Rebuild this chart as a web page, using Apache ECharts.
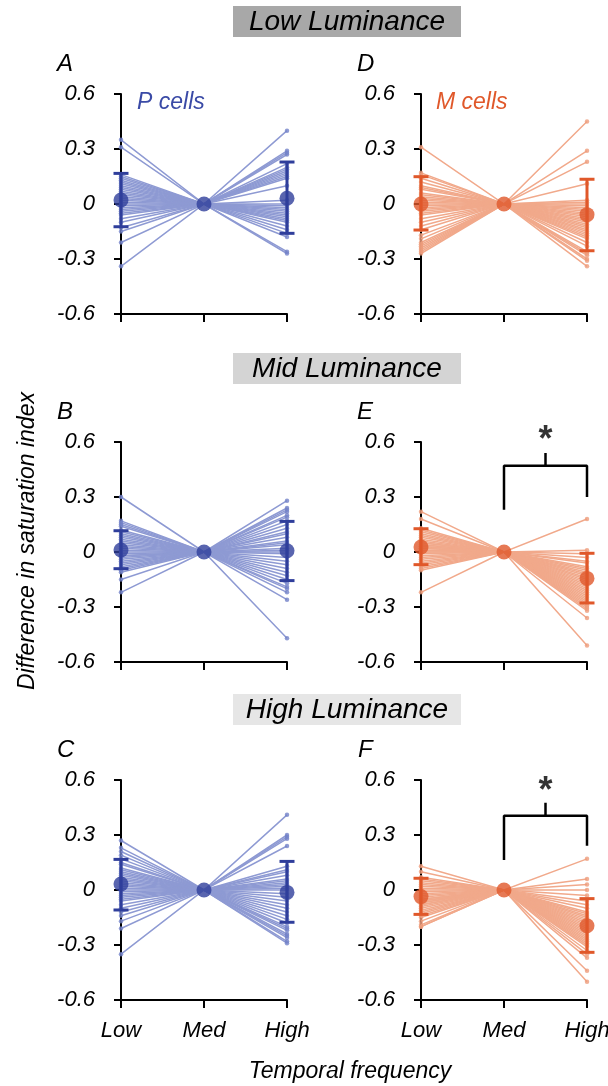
<!DOCTYPE html>
<html>
<head>
<meta charset="utf-8">
<script src="https://cdn.jsdelivr.net/npm/echarts@6/dist/echarts.min.js"></script>
<style>
html, body { margin: 0; padding: 0; background: #fff; }
#main { width: 608px; height: 1086px; }
</style>
</head>
<body>
<div id="main"></div>
<script>
var freqLabels = ['Low', 'Med', 'High'];
var yTickLabels = ['-0.6', '-0.3', '0', '0.3', '0.6'];

// each cell: value at Low and High temporal frequency (Med is the reference = 0)
// A: P cells, low luminance
var aLow = [0.35, 0.31, 0.16, 0.15, 0.14, 0.13, 0.12, 0.11, 0.10, 0.09, 0.08, 0.07, 0.06, 0.05, 0.04, 0.03, 0.02, 0.01, 0.0, -0.01, -0.02, -0.03, -0.04, -0.05, -0.06, -0.08, -0.10, -0.13, -0.15, -0.21, -0.34];
var aHigh = [0.40, 0.29, 0.28, 0.27, 0.22, 0.20, 0.19, 0.18, 0.17, 0.16, 0.15, 0.14, 0.10, 0.02, 0.0, -0.01, -0.02, -0.03, -0.04, -0.05, -0.06, -0.07, -0.08, -0.09, -0.10, -0.12, -0.14, -0.16, -0.18, -0.26, -0.27];
// D: M cells, low luminance
var dLow = [0.31, 0.17, 0.16, 0.14, 0.12, 0.10, 0.09, 0.08, 0.06, 0.05, 0.04, 0.03, 0.02, 0.01, 0.0, -0.01, -0.02, -0.03, -0.04, -0.05, -0.06, -0.08, -0.10, -0.12, -0.14, -0.17, -0.19, -0.21, -0.22, -0.23, -0.24, -0.25, -0.26, -0.27];
var dHigh = [0.45, 0.29, 0.23, 0.11, 0.02, 0.01, 0.0, -0.01, -0.02, -0.03, -0.04, -0.05, -0.06, -0.07, -0.08, -0.09, -0.10, -0.11, -0.12, -0.13, -0.14, -0.15, -0.16, -0.17, -0.18, -0.19, -0.21, -0.23, -0.26, -0.27, -0.28, -0.30, -0.31, -0.34];
// B: P cells, mid luminance
var bLow = [0.30, 0.17, 0.16, 0.15, 0.14, 0.12, 0.11, 0.10, 0.09, 0.08, 0.07, 0.06, 0.05, 0.04, 0.03, 0.02, 0.01, 0.0, -0.01, -0.02, -0.02, -0.03, -0.04, -0.05, -0.06, -0.07, -0.08, -0.09, -0.10, -0.11, -0.15, -0.22];
var bHigh = [0.28, 0.24, 0.23, 0.22, 0.20, 0.19, 0.17, 0.15, 0.13, 0.11, 0.10, 0.08, 0.06, 0.05, 0.04, 0.02, 0.01, 0.0, -0.01, -0.03, -0.05, -0.07, -0.09, -0.11, -0.13, -0.15, -0.17, -0.19, -0.20, -0.22, -0.26, -0.47];
// E: M cells, mid luminance
var eLow = [0.22, 0.18, 0.13, 0.12, 0.11, 0.10, 0.09, 0.08, 0.07, 0.06, 0.05, 0.05, 0.04, 0.04, 0.03, 0.03, 0.02, 0.02, 0.01, 0.01, 0.0, 0.0, -0.01, -0.02, -0.03, -0.04, -0.05, -0.06, -0.07, -0.08, -0.09, -0.10, -0.22];
var eHigh = [0.18, 0.01, -0.01, -0.03, -0.05, -0.06, -0.08, -0.09, -0.10, -0.11, -0.12, -0.13, -0.14, -0.15, -0.16, -0.17, -0.18, -0.19, -0.20, -0.21, -0.22, -0.23, -0.24, -0.25, -0.26, -0.27, -0.28, -0.29, -0.30, -0.31, -0.32, -0.36, -0.51];
// C: P cells, high luminance
var cLow = [0.27, 0.23, 0.21, 0.19, 0.17, 0.15, 0.14, 0.12, 0.11, 0.10, 0.09, 0.08, 0.07, 0.06, 0.05, 0.04, 0.03, 0.02, 0.01, 0.0, -0.01, -0.02, -0.03, -0.04, -0.05, -0.06, -0.08, -0.10, -0.12, -0.14, -0.17, -0.21, -0.35];
var cHigh = [0.41, 0.30, 0.29, 0.28, 0.24, 0.13, 0.11, 0.10, 0.08, 0.06, 0.05, 0.04, 0.03, 0.02, 0.01, 0.0, -0.02, -0.04, -0.06, -0.08, -0.10, -0.12, -0.14, -0.16, -0.18, -0.20, -0.21, -0.22, -0.24, -0.25, -0.26, -0.28, -0.29];
// F: M cells, high luminance
var fLow = [0.13, 0.10, 0.07, 0.06, 0.05, 0.04, 0.03, 0.02, 0.01, 0.0, -0.01, -0.02, -0.03, -0.04, -0.05, -0.05, -0.06, -0.06, -0.07, -0.07, -0.08, -0.08, -0.09, -0.10, -0.11, -0.12, -0.13, -0.14, -0.15, -0.17, -0.19, -0.20, -0.20];
var fHigh = [0.17, 0.06, 0.03, 0.0, -0.03, -0.06, -0.08, -0.10, -0.12, -0.13, -0.14, -0.15, -0.16, -0.17, -0.18, -0.19, -0.20, -0.21, -0.22, -0.23, -0.24, -0.25, -0.26, -0.27, -0.28, -0.29, -0.30, -0.31, -0.33, -0.35, -0.37, -0.44, -0.50];

// group means at Low / Med / High, and error bar ends at Low and High
var aMean = [0.022, 0, 0.031], aErrLow = [-0.124, -0.16], aErrHigh = [0.167, 0.229];
var dMean = [0.0, 0, -0.058], dErrLow = [-0.142, -0.255], dErrHigh = [0.149, 0.135];
var bMean = [0.011, 0, 0.007], bErrLow = [-0.091, -0.156], bErrHigh = [0.116, 0.167];
var eMean = [0.027, 0, -0.144], eErrLow = [-0.069, -0.278], eErrHigh = [0.127, -0.007];
var cMean = [0.033, 0, -0.013], cErrLow = [-0.109, -0.176], cErrHigh = [0.167, 0.156];
var fMean = [-0.036, 0, -0.195], fErrLow = [-0.133, -0.34], fErrHigh = [0.064, -0.047];

var FONT = '"Liberation Sans", Arial, sans-serif';
var colors = {
    P: { dark: '#2f3e9b', light: '#8e9ad3', dot: '#7382c8' },
    M: { dark: '#e0582a', light: '#f1a98b', dot: '#ee9c7c' }
};

var panels = [
    { low: aLow, high: aHigh, mean: aMean, eLo: aErrLow, eHi: aErrHigh, cell: 'P', left: 121, top: 94, bottom: false },
    { low: dLow, high: dHigh, mean: dMean, eLo: dErrLow, eHi: dErrHigh, cell: 'M', left: 421, top: 94, bottom: false },
    { low: bLow, high: bHigh, mean: bMean, eLo: bErrLow, eHi: bErrHigh, cell: 'P', left: 121, top: 442, bottom: false },
    { low: eLow, high: eHigh, mean: eMean, eLo: eErrLow, eHi: eErrHigh, cell: 'M', left: 421, top: 442, bottom: false, sig: true },
    { low: cLow, high: cHigh, mean: cMean, eLo: cErrLow, eHi: cErrHigh, cell: 'P', left: 121, top: 780, bottom: true },
    { low: fLow, high: fHigh, mean: fMean, eLo: fErrLow, eHi: fErrHigh, cell: 'M', left: 421, top: 780, bottom: true, sig: true }
];

var grids = [], xAxes = [], yAxes = [], series = [];

panels.forEach(function (p, i) {
    var c = colors[p.cell];
    grids.push({ left: p.left, top: p.top, width: 166, height: 220, outerBoundsMode: 'none', containLabel: false });
    xAxes.push({
        type: 'value', gridIndex: i, min: 0, max: 2, interval: 1,
        axisLine: { onZero: false, lineStyle: { color: '#000', width: 2 } },
        axisTick: { show: true, length: 8, lineStyle: { color: '#000', width: 2 } },
        axisLabel: {
            show: p.bottom, margin: 20, color: '#000', fontSize: 22, fontStyle: 'italic', fontFamily: FONT,
            hideOverlap: false, showMinLabel: true, showMaxLabel: true,
            formatter: function (v) { return freqLabels[v]; }
        },
        splitLine: { show: false }
    });
    yAxes.push({
        type: 'value', gridIndex: i, min: -0.6, max: 0.6, interval: 0.3,
        axisLine: { show: true, onZero: false, lineStyle: { color: '#000', width: 2 } },
        axisTick: { show: true, length: 7, lineStyle: { color: '#000', width: 2 } },
        axisLabel: {
            margin: 26, color: '#000', fontSize: 22, fontStyle: 'italic', fontFamily: FONT,
            formatter: function (v) { return yTickLabels[Math.round((v + 0.6) / 0.3)]; }
        },
        splitLine: { show: false }
    });

    // individual cells
    var cellLines = [], ends = [];
    for (var k = 0; k < p.low.length; k++) {
        cellLines.push({ coords: [[0, p.low[k]], [1, 0], [2, p.high[k]]] });
        ends.push([0, p.low[k]]);
        ends.push([2, p.high[k]]);
    }
    series.push({
        type: 'lines', coordinateSystem: 'cartesian2d', xAxisIndex: i, yAxisIndex: i,
        polyline: true, data: cellLines, silent: true, z: 1,
        lineStyle: { color: c.light, width: 1.5, opacity: 1 }
    });
    series.push({
        type: 'scatter', xAxisIndex: i, yAxisIndex: i, data: ends, symbolSize: 4.5, z: 2,
        itemStyle: { color: c.dot }
    });

    // error bars
    series.push({
        type: 'custom', xAxisIndex: i, yAxisIndex: i, z: 3,
        data: [[0, p.eLo[0], p.eHi[0]], [2, p.eLo[1], p.eHi[1]]],
        encode: { x: 0, y: [1, 2] },
        renderItem: function (params, api) {
            var lo = api.coord([api.value(0), api.value(1)]);
            var hi = api.coord([api.value(0), api.value(2)]);
            var hw = 7.5;
            var st = { stroke: c.dark, lineWidth: 3 };
            return {
                type: 'group',
                children: [
                    { type: 'line', shape: { x1: lo[0], y1: lo[1], x2: hi[0], y2: hi[1] }, style: st },
                    { type: 'line', shape: { x1: lo[0] - hw, y1: lo[1], x2: lo[0] + hw, y2: lo[1] }, style: st },
                    { type: 'line', shape: { x1: hi[0] - hw, y1: hi[1], x2: hi[0] + hw, y2: hi[1] }, style: st }
                ]
            };
        }
    });

    // means
    series.push({
        type: 'scatter', xAxisIndex: i, yAxisIndex: i, z: 4, symbolSize: 15,
        data: p.mean.map(function (m, j) { return [j, m]; }),
        itemStyle: { color: c.dark }
    });

    // significance bracket Med vs High
    if (p.sig) {
        var top = i === 3 ? 0.47 : 0.405;
        var legL = i === 3 ? 0.23 : 0.164;
        var legR = i === 3 ? 0.30 : 0.242;
        var tick = i === 3 ? 0.54 : 0.476;
        var star = i === 3 ? 0.65 : 0.58;
        series.push({
            type: 'line', xAxisIndex: i, yAxisIndex: i, symbol: 'none', silent: true,
            data: [[1, legL], [1, top], [2, top], [2, legR]],
            lineStyle: { color: '#000', width: 2.5 }
        });
        series.push({
            type: 'line', xAxisIndex: i, yAxisIndex: i, symbol: 'none', silent: true,
            data: [[1.5, top], [1.5, tick]],
            lineStyle: { color: '#000', width: 2.5 }
        });
        series.push({
            type: 'scatter', xAxisIndex: i, yAxisIndex: i, symbolSize: 0, silent: true, clip: false,
            data: [[1.5, star]],
            label: { show: true, position: 'inside', formatter: '*', fontSize: 36, fontWeight: 'bold', color: '#000', fontFamily: FONT, offset: [0, 8] }
        });
    }
});

function txt(x, y, s, size, color, align, rot) {
    return {
        type: 'text', x: x, y: y, rotation: rot || 0, silent: true,
        style: {
            text: s, font: 'italic ' + size + 'px ' + FONT, fill: color,
            textAlign: align || 'left', textVerticalAlign: 'middle',
            align: align || 'left', verticalAlign: 'middle'
        }
    };
}

var graphics = [
    { type: 'rect', shape: { x: 233, y: 6, width: 228, height: 31 }, style: { fill: '#a8a8a8' } },
    { type: 'rect', shape: { x: 233, y: 353, width: 228, height: 31 }, style: { fill: '#d4d4d4' } },
    { type: 'rect', shape: { x: 233, y: 694, width: 228, height: 31 }, style: { fill: '#e6e6e6' } },
    txt(347, 22, 'Low Luminance', 28, '#000', 'center'),
    txt(347, 369, 'Mid Luminance', 28, '#000', 'center'),
    txt(347, 710, 'High Luminance', 28, '#000', 'center'),
    txt(57, 64, 'A', 24, '#000'),
    txt(357, 64, 'D', 24, '#000'),
    txt(57, 412, 'B', 24, '#000'),
    txt(357, 412, 'E', 24, '#000'),
    txt(57, 750, 'C', 24, '#000'),
    txt(358, 750, 'F', 24, '#000'),
    txt(137, 103, 'P cells', 23, '#3a4aa6'),
    txt(436, 103, 'M cells', 23, colors.M.dark),
    txt(28, 541, 'Difference in saturation index', 23, '#000', 'center', Math.PI / 2),
    txt(350, 1072, 'Temporal frequency', 23, '#000', 'center')
];

var myChart = echarts.init(document.getElementById('main'));
myChart.setOption({
    animation: false,
    backgroundColor: '#fff',
    grid: grids,
    xAxis: xAxes,
    yAxis: yAxes,
    series: series,
    graphic: graphics
});
</script>
</body>
</html>
